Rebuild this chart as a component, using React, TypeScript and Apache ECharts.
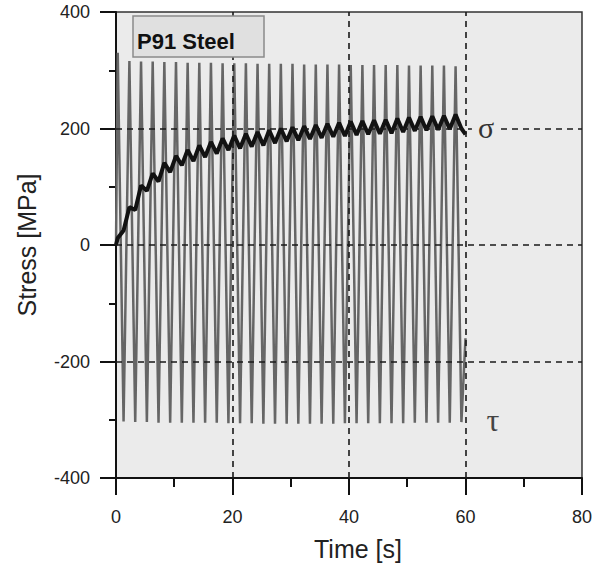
import React, { useEffect, useRef } from "react";
import * as echarts from "echarts";

// Shear stress tau: alternating peaks and troughs (time [s], stress [MPa])
const tauPeakTimes = [0.3, 2.3, 4.3, 6.3, 8.3, 10.3, 12.3, 14.3, 16.3, 18.3, 20.3, 22.3, 24.3, 26.3, 28.3, 30.3, 32.3, 34.3, 36.3, 38.3, 40.3, 42.3, 44.3, 46.3, 48.3, 50.3, 52.3, 54.3, 56.3, 58.3];
const tauPeakValues = [330, 316, 315, 315, 314, 314, 313, 313, 313, 312, 312, 312, 311, 311, 311, 311, 310, 310, 310, 310, 309, 309, 309, 309, 309, 308, 308, 308, 308, 307];
const tauTroughTimes = [1.3, 3.3, 5.3, 7.3, 9.3, 11.3, 13.3, 15.3, 17.3, 19.3, 21.3, 23.3, 25.3, 27.3, 29.3, 31.3, 33.3, 35.3, 37.3, 39.3, 41.3, 43.3, 45.3, 47.3, 49.3, 51.3, 53.3, 55.3, 57.3, 59.3];
const tauTroughValues = [-303, -304, -304, -305, -305, -305, -305, -305, -305, -306, -306, -306, -307, -307, -307, -307, -307, -307, -307, -306, -306, -306, -306, -306, -306, -305, -305, -305, -305, -304];
const tauStart = [0, 0];
const tauEnd = [60, -160];

// Normal stress sigma: ripple maxima (at tau peaks) and minima (at tau troughs)
const sigmaPeakValues = [12, 65, 102, 123, 141, 153, 163, 171, 177, 183, 188, 191, 194, 197, 200, 202, 204, 206, 208, 210, 212, 213, 214, 215, 217, 219, 220, 221, 222, 224];
const sigmaTroughValues = [25, 60, 93, 109, 125, 137, 144, 151, 157, 163, 166, 169, 171, 175, 178, 180, 182, 184, 186, 187, 189, 190, 191, 192, 194, 196, 197, 198, 199, 200];
const sigmaStart = [0, 0];
const sigmaEnd = [60, 190];

const xTicks = { min: 0, max: 80, interval: 20 };
const yTicks = { min: -400, max: 400, interval: 200 };
const gridX = [20, 40, 60];
const gridY = [-200, 0, 200];

function interleave(times: number[], a: number[], times2: number[], b: number[], start: number[], end: number[]) {
  const out: number[][] = [start];
  for (let i = 0; i < times.length; i++) {
    out.push([times[i], a[i]]);
    if (i < times2.length) out.push([times2[i], b[i]]);
  }
  out.push(end);
  return out;
}

const FONT = "'Liberation Sans', Arial, sans-serif";

export default function App() {
  const ref = useRef<HTMLDivElement>(null);
  useEffect(() => {
    const chart = echarts.init(ref.current as HTMLDivElement, null, { renderer: "svg" });
    const tauData = interleave(tauPeakTimes, tauPeakValues, tauTroughTimes, tauTroughValues, tauStart, tauEnd);
    const sigmaData = interleave(tauPeakTimes, sigmaPeakValues, tauTroughTimes, sigmaTroughValues, sigmaStart, sigmaEnd);
    const dashStyle = { color: "#1a1a1a", width: 1.6, type: [6, 5] as any };
    chart.setOption({
      animation: false,
      backgroundColor: "#ffffff",
      grid: {
        left: 116,
        right: 12,
        top: 12,
        bottom: 92,
        show: true,
        backgroundColor: "#ebebeb",
        borderColor: "#333",
        borderWidth: 1.5,
      },
      xAxis: {
        type: "value",
        min: xTicks.min,
        max: xTicks.max,
        interval: xTicks.interval,
        axisLine: { show: true, onZero: false, lineStyle: { color: "#111", width: 2 } },
        axisTick: { show: true, length: 17, lineStyle: { color: "#111", width: 2 } },
        minorTick: { show: true, splitNumber: 2, length: 9, lineStyle: { color: "#111", width: 2 } },
        splitLine: { show: false },
        axisLabel: { fontSize: 18, color: "#222", fontFamily: FONT, margin: 30 },
      },
      yAxis: {
        type: "value",
        min: yTicks.min,
        max: yTicks.max,
        interval: yTicks.interval,
        axisLine: { show: true, onZero: false, lineStyle: { color: "#111", width: 2 } },
        axisTick: { show: true, length: 16, lineStyle: { color: "#111", width: 2 } },
        minorTick: { show: true, splitNumber: 2, length: 7, lineStyle: { color: "#111", width: 2 } },
        splitLine: { show: false },
        axisLabel: { fontSize: 18, color: "#222", fontFamily: FONT, margin: 26 },
      },
      series: [
        {
          name: "tau",
          type: "line",
          data: tauData,
          showSymbol: false,
          symbol: "none",
          z: 2,
          lineStyle: { color: "#666666", width: 2.5 },
          markLine: {
            silent: true,
            symbol: ["none", "none"],
            label: { show: false },
            lineStyle: dashStyle,
            z: 4,
            data: [
              ...gridX.map((v) => ({ xAxis: v })),
              ...gridY.map((v) => ({ yAxis: v })),
            ],
          },
        },
        {
          name: "sigma",
          type: "line",
          data: sigmaData,
          showSymbol: false,
          symbol: "none",
          z: 3,
          lineStyle: { color: "#121212", width: 4 },
        },
      ],
      graphic: [
        {
          type: "rect",
          z: 10,
          shape: { x: 133, y: 16, width: 131, height: 41 },
          style: { fill: "#e0e0e0", stroke: "#8a8a8a", lineWidth: 1.5 },
        },
        {
          type: "text",
          z: 11,
          x: 137,
          y: 41,
          style: { text: "P91 Steel", fontSize: 22, fontWeight: "bold", fontFamily: FONT, fill: "#111", verticalAlign: "middle", align: "left" },
        },
        {
          type: "text",
          z: 11,
          x: 486,
          y: 127,
          style: { text: "σ", fontSize: 30, fontFamily: "'Liberation Serif', 'DejaVu Serif', serif", fill: "#333", align: "center", verticalAlign: "middle", backgroundColor: "#ebebeb", padding: [0, 6, 0, 6] },
        },
        {
          type: "text",
          z: 11,
          x: 493,
          y: 420,
          style: { text: "τ", fontSize: 32, fontFamily: "'Liberation Serif', 'DejaVu Serif', serif", fill: "#444", align: "center", verticalAlign: "middle" },
        },
        {
          type: "text",
          x: 358,
          y: 549,
          style: { text: "Time [s]", fontSize: 25, fontFamily: FONT, fill: "#222", align: "center", verticalAlign: "middle" },
        },
        {
          type: "text",
          x: 27,
          y: 245,
          rotation: Math.PI / 2,
          style: { text: "Stress [MPa]", fontSize: 25, fontFamily: FONT, fill: "#222", align: "center", verticalAlign: "middle" },
        },
      ],
    });
    return () => chart.dispose();
  }, []);
  return <div ref={ref} style={{ width: 595, height: 570, position: "fixed", left: 0, top: 0 }} />;
}
